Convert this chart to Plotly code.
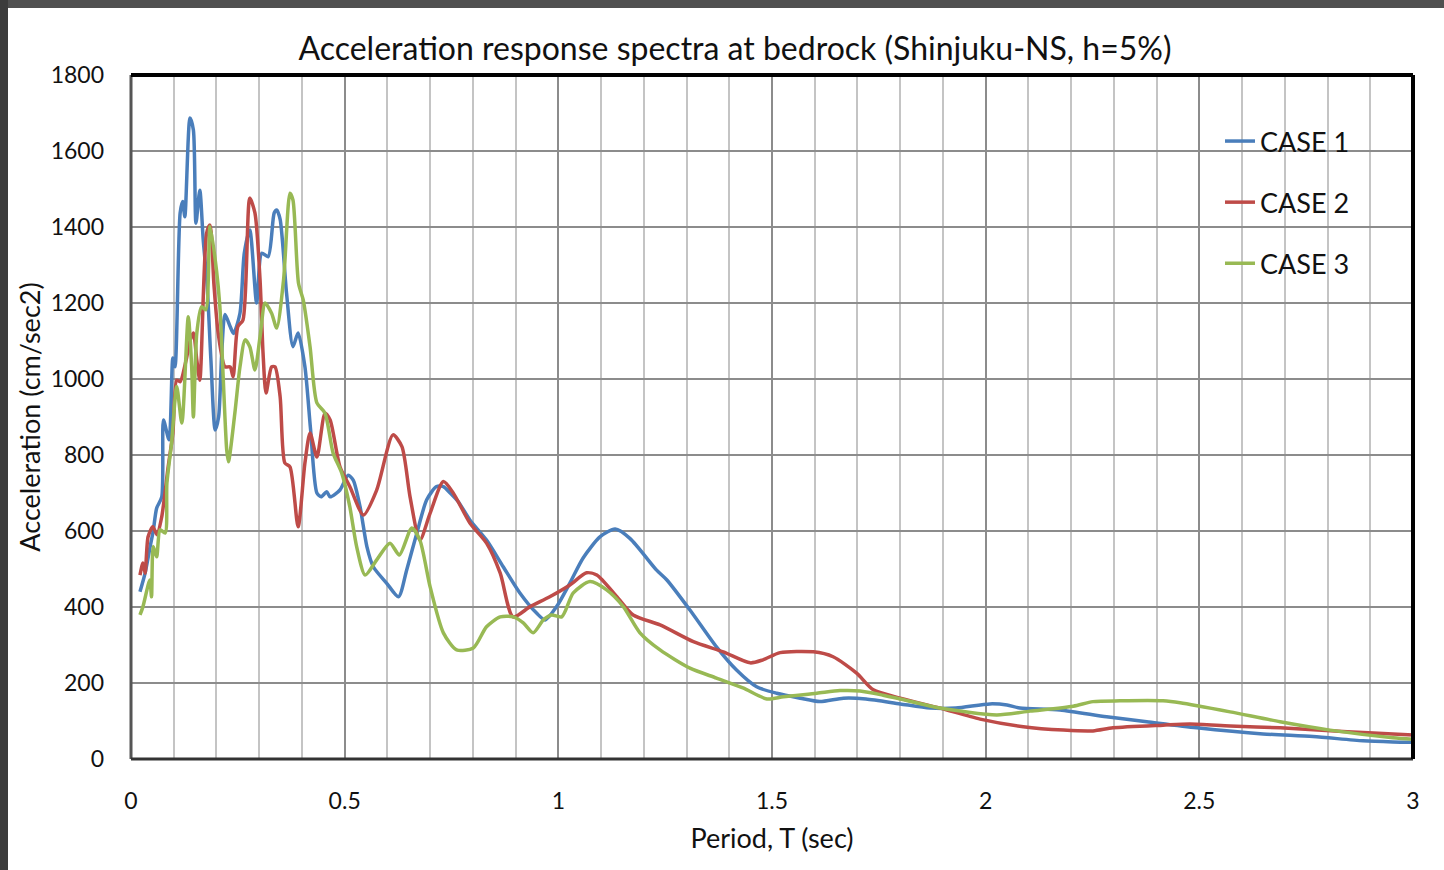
import plotly.graph_objects as go

# ---------------- data ----------------
case1_T = [0.021, 0.033, 0.045, 0.052, 0.060, 0.072, 0.076, 0.089, 0.098, 0.103, 0.115, 0.121, 0.126,
           0.138, 0.146, 0.152, 0.161, 0.169, 0.178, 0.187, 0.197, 0.205, 0.212, 0.220, 0.232, 0.240,
           0.255, 0.265, 0.278, 0.294, 0.306, 0.321, 0.335, 0.341, 0.349, 0.364, 0.379, 0.391, 0.407,
           0.420, 0.435, 0.445, 0.458, 0.466, 0.489, 0.508, 0.520, 0.536, 0.552, 0.567, 0.598, 0.626,
           0.645, 0.669, 0.692, 0.715, 0.731, 0.747, 0.766, 0.793, 0.832, 0.871, 0.910, 0.949, 0.969,
           0.996, 1.027, 1.058, 1.098, 1.133, 1.168, 1.230, 1.254, 1.308, 1.370, 1.417, 1.464, 1.511,
           1.566, 1.612, 1.667, 1.720, 1.800, 1.870, 1.930, 2.010, 2.050, 2.080, 2.174, 2.283, 2.377,
           2.494, 2.649, 2.766, 2.883, 2.953, 3.000]
case1_A = [440, 489, 560, 600, 660, 690, 892, 840, 1055, 1032, 1437, 1467, 1427,
           1687, 1655, 1410, 1497, 1366, 1250, 1050, 866, 900, 1060, 1170, 1138, 1120,
           1173, 1330, 1392, 1200, 1331, 1322, 1437, 1445, 1420, 1226, 1085, 1121, 1032,
           870, 700, 690, 703, 690, 708, 747, 734, 664, 559, 506, 463, 427,
           497, 595, 682, 717, 717, 700, 677, 629, 576, 506, 437, 384, 366,
           401, 463, 529, 585, 605, 580, 497, 471, 392, 295, 234, 190, 173,
           160, 151, 160, 158, 145, 134, 134, 145, 142, 134, 129, 111, 98,
           82, 66, 59, 48, 45, 44]

case2_T = [0.021, 0.028, 0.033, 0.040, 0.051, 0.061, 0.072, 0.087, 0.098, 0.107, 0.115, 0.129, 0.138,
           0.146, 0.154, 0.161, 0.177, 0.185, 0.194, 0.204, 0.220, 0.232, 0.239, 0.250, 0.262, 0.278,
           0.290, 0.302, 0.309, 0.316, 0.329, 0.337, 0.349, 0.360, 0.372, 0.391, 0.407, 0.419, 0.435,
           0.454, 0.466, 0.489, 0.512, 0.544, 0.575, 0.613, 0.634, 0.653, 0.676, 0.700, 0.731, 0.754,
           0.793, 0.832, 0.864, 0.894, 0.934, 0.980, 1.027, 1.066, 1.090, 1.137, 1.175, 1.238, 1.316,
           1.386, 1.449, 1.479, 1.519, 1.597, 1.643, 1.698, 1.737, 1.800, 1.893, 1.987, 2.088, 2.182,
           2.251, 2.298, 2.415, 2.478, 2.572, 2.689, 2.846, 2.953, 3.000]
case2_A = [484, 516, 489, 585, 611, 590, 638, 769, 858, 997, 993, 1050, 1100,
           1121, 1050, 997, 1384, 1405, 1250, 1121, 1032, 1032, 1006, 1138, 1155, 1476,
           1437, 1261, 1068, 963, 1032, 1032, 953, 779, 769, 611, 779, 858, 795,
           910, 892, 769, 717, 642, 708, 853, 822, 690, 576, 647, 730, 700,
           621, 568, 489, 374, 401, 427, 458, 490, 484, 427, 379, 353, 309,
           282, 253, 261, 280, 282, 269, 226, 182, 160, 134, 105, 85, 76,
           74, 82, 89, 92, 87, 82, 72, 66, 63]

case3_T = [0.021, 0.028, 0.044, 0.048, 0.052, 0.060, 0.068, 0.080, 0.084, 0.095, 0.107, 0.119, 0.134,
           0.142, 0.146, 0.154, 0.165, 0.175, 0.185, 0.200, 0.208, 0.224, 0.228, 0.243, 0.255, 0.267,
           0.278, 0.290, 0.302, 0.314, 0.329, 0.341, 0.357, 0.372, 0.379, 0.392, 0.403, 0.419, 0.435,
           0.454, 0.473, 0.493, 0.512, 0.528, 0.548, 0.575, 0.606, 0.628, 0.657, 0.676, 0.700, 0.731,
           0.762, 0.801, 0.832, 0.864, 0.895, 0.918, 0.941, 0.965, 0.984, 1.008, 1.035, 1.074, 1.113,
           1.152, 1.191, 1.238, 1.308, 1.370, 1.432, 1.488, 1.527, 1.605, 1.659, 1.706, 1.760, 1.800,
           1.893, 2.026, 2.104, 2.205, 2.251, 2.314, 2.415, 2.455, 2.572, 2.689, 2.806, 2.953, 3.000]
case3_A = [379, 401, 471, 427, 559, 532, 603, 595, 726, 832, 980, 884, 1164,
           1032, 900, 1121, 1190, 1182, 1401, 1287, 1190, 813, 782, 910, 1032, 1103,
           1085, 1024, 1111, 1200, 1173, 1134, 1261, 1489, 1471, 1252, 1208, 1085, 937,
           910, 805, 753, 664, 559, 484, 524, 568, 537, 608, 576, 453, 332,
           287, 292, 348, 374, 374, 358, 332, 366, 379, 374, 437, 467, 445,
           401, 332, 287, 239, 213, 187, 158, 164, 173, 180, 179, 168, 158,
           134, 116, 126, 139, 151, 153, 153, 148, 124, 98, 76, 56, 52]

series_names = ["CASE 1", "CASE 2", "CASE 3"]
series_colors = ["#4A7EBB", "#BE4B48", "#98B954"]

x_ticks = [0, 0.5, 1, 1.5, 2, 2.5, 3]
x_tick_labels = ["0", "0.5", "1", "1.5", "2", "2.5", "3"]
y_ticks = [0, 200, 400, 600, 800, 1000, 1200, 1400, 1600, 1800]

# ---------------- figure ----------------
FONT = "Lato, 'Open Sans', sans-serif"
W, H = 1444, 870
L, R, T, B = 131, 31, 75, 111

fig = go.Figure()
for name, col, xs, ys, grp in zip(series_names, series_colors,
                                  [case1_T, case2_T, case3_T],
                                  [case1_A, case2_A, case3_A], ["g1", "g2", "g3"]):
    fig.add_trace(go.Scatter(x=xs, y=ys, mode="lines", name=name, legendgroup=grp,
                             line=dict(color=col, width=3.5, shape="spline", smoothing=0.7)))

pw, ph = W - L - R, H - T - B
def px2x(px):
    return (px - L) / pw
def py2y(py):
    return (H - B - py) / ph

shapes = [
    # dark window edges of the screenshot
    dict(type="rect", xref="paper", yref="paper", x0=px2x(0), x1=px2x(W), y0=py2y(8), y1=py2y(0),
         fillcolor="#505050", line=dict(width=0), layer="below"),
    dict(type="rect", xref="paper", yref="paper", x0=px2x(0), x1=px2x(8), y0=py2y(H), y1=py2y(0),
         fillcolor="#3c3c3c", line=dict(width=0), layer="below"),
    # plot-area frame
    dict(type="line", xref="paper", yref="paper", x0=0, x1=0, y0=0, y1=1,
         line=dict(color="#555555", width=3)),
    dict(type="line", xref="paper", yref="paper", x0=0, x1=1, y0=0, y1=0,
         line=dict(color="#333333", width=3)),
    dict(type="line", xref="paper", yref="paper", x0=0, x1=1, y0=1, y1=1,
         line=dict(color="#000000", width=4)),
    dict(type="line", xref="paper", yref="paper", x0=1, x1=1, y0=0, y1=1,
         line=dict(color="#000000", width=4)),
]

fig.update_layout(
    width=W, height=H,
    margin=dict(l=L, r=R, t=T, b=B),
    paper_bgcolor="white", plot_bgcolor="white",
    font=dict(family=FONT, color="#111111"),
    title=dict(text="Acceleration response spectra at bedrock (Shinjuku-NS, h=5%)",
               font=dict(size=32, family=FONT, color="#111111"),
               x=735 / W, xref="container", xanchor="center",
               y=1 - 49 / H, yref="container", yanchor="middle"),
    xaxis=dict(range=[0, 3], tickvals=x_ticks, ticktext=x_tick_labels,
               showgrid=True, gridcolor="#8c8c8c", gridwidth=1.5,
               minor=dict(dtick=0.1, showgrid=True, gridcolor="#c4c4c4", gridwidth=1.5),
               zeroline=False, showline=False, ticks="",
               ticklabelstandoff=26,
               tickfont=dict(size=23, family=FONT, color="#111111"),
               title=dict(text="Period, T (sec)", font=dict(size=27, family=FONT, color="#111111"),
                          standoff=16)),
    yaxis=dict(range=[0, 1800], tickvals=y_ticks,
               showgrid=True, gridcolor="#8c8c8c", gridwidth=1.5,
               zeroline=False, showline=False, ticks="",
               ticklabelstandoff=26,
               tickfont=dict(size=23, family=FONT, color="#111111"),
               title=dict(text="Acceleration (cm/sec2)", font=dict(size=27, family=FONT, color="#111111"),
                          standoff=2)),
    legend=dict(x=px2x(1220), y=py2y(117), xanchor="left", yanchor="top",
                bgcolor="rgba(0,0,0,0)", borderwidth=0,
                font=dict(size=27, family=FONT, color="#111111"),
                tracegroupgap=23, itemwidth=30),
    showlegend=True,
    shapes=shapes,
)

fig.write_html("out.html")
